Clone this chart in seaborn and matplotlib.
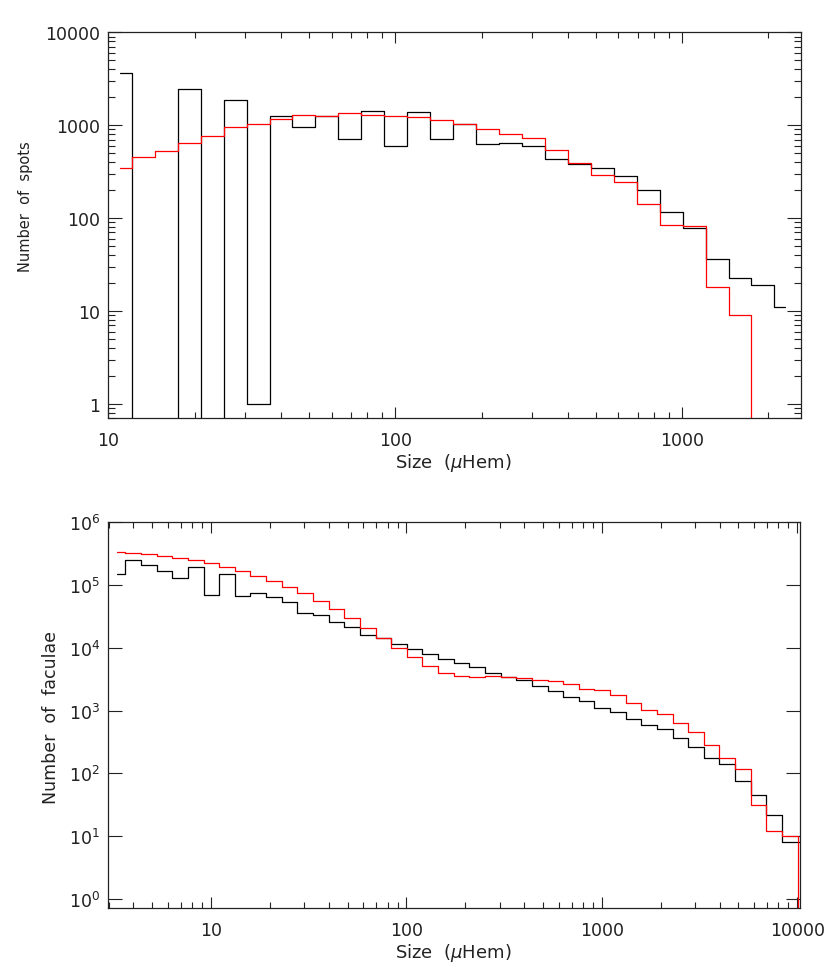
import numpy as np
import matplotlib
matplotlib.use('Agg')
import matplotlib.pyplot as plt
import matplotlib.ticker as mticker
import seaborn as sns

# Spots: bin centres (uHem) and counts for the two series (black / red).
spot_size = [10.96, 13.18, 15.85, 19.05, 22.91, 27.54, 33.11, 39.81, 47.86, 57.54,
             69.18, 83.18, 100.0, 120.2, 144.5, 173.8, 208.9, 251.2, 302.0, 363.1,
             436.5, 524.8, 631.0, 758.6, 912.0, 1096, 1318, 1585, 1905, 2291]
spot_black = [3630, 0, 0, 2460, 0, 1845, 1.0, 1242, 959, 1259,
              702, 1415, 598, 1390, 702, 1042, 624, 640, 604, 438,
              383, 347, 287, 201, 115, 77.3, 36.7, 22.9, 18.9, 11.1]
spot_red = [344, 452, 534, 645, 774, 951, 1033, 1161, 1283, 1250,
            1347, 1303, 1250, 1219, 1151, 1042, 899, 795, 730, 547,
            396, 292, 243, 142, 84, 82.5, 18.0, 9.0, 0, 0]

# Faculae: bin centres (uHem) and counts.
fac_size = [3.311, 3.981, 4.786, 5.754, 6.918, 8.318, 10.0, 12.02, 14.45, 17.38,
            20.89, 25.12, 30.20, 36.31, 43.65, 52.48, 63.10, 75.86, 91.20, 109.6,
            131.8, 158.5, 190.5, 229.1, 275.4, 331.1, 398.1, 478.6, 575.4, 691.8,
            831.8, 1000, 1202, 1445, 1738, 2089, 2512, 3020, 3631, 4365,
            5248, 6310, 7586, 9120, 10965]
fac_black = [1.52e5, 2.50e5, 2.08e5, 1.67e5, 1.31e5, 1.94e5, 7.03e4, 1.52e5, 6.61e4, 7.38e4,
             6.53e4, 5.45e4, 3.64e4, 3.38e4, 2.58e4, 2.15e4, 1.63e4, 1.44e4, 1.15e4, 9.5e3,
             8.0e3, 6.76e3, 5.63e3, 4.92e3, 3.99e3, 3.44e3, 3.05e3, 2.43e3, 2.04e3, 1.64e3,
             1.43e3, 1.12e3, 936, 741, 595, 502, 370, 263, 176, 141,
             76.6, 45.4, 21.6, 8.03, 8.03]
fac_red = [3.31e5, 3.23e5, 3.11e5, 2.89e5, 2.69e5, 2.50e5, 2.24e5, 1.94e5, 1.67e5, 1.41e5,
           1.15e5, 9.2e4, 7.38e4, 5.57e4, 4.11e4, 2.96e4, 2.10e4, 1.44e4, 9.86e3, 7.02e3,
           5.10e3, 3.99e3, 3.57e3, 3.37e3, 3.50e3, 3.44e3, 3.25e3, 3.13e3, 2.94e3, 2.61e3,
           2.25e3, 2.14e3, 1.76e3, 1.30e3, 1.02e3, 869, 625, 450, 286, 176,
           116, 31.1, 12.0, 10.1, 0]

sns.set_style('ticks')
plt.rcParams['font.family'] = ['DejaVu Sans']

fig = plt.figure(figsize=(8.30, 9.79), dpi=100)
ax1 = fig.add_axes([0.1305, 0.5717, 0.8342, 0.3943])
ax2 = fig.add_axes([0.1305, 0.0712, 0.8337, 0.3943])

# step histograms (IDL psym=10 style == steps-mid)
sns.lineplot(x=spot_size, y=spot_black, drawstyle='steps-mid', color='black',
             lw=0.9, estimator=None, ax=ax1)
sns.lineplot(x=spot_size, y=spot_red, drawstyle='steps-mid', color='red',
             lw=0.9, estimator=None, ax=ax1)
sns.lineplot(x=fac_size, y=fac_black, drawstyle='steps-mid', color='black',
             lw=0.9, estimator=None, ax=ax2)
sns.lineplot(x=fac_size, y=fac_red, drawstyle='steps-mid', color='red',
             lw=0.9, estimator=None, ax=ax2)

for ax in (ax1, ax2):
    ax.set_xscale('log')
    ax.set_yscale('log', nonpositive='clip')
    ax.tick_params(which='both', direction='in', top=True, right=True,
                   colors='#222222', labelsize=12.5, width=0.8)
    ax.tick_params(axis='x', which='major', length=8, pad=9)
    ax.tick_params(axis='x', which='minor', length=4)
    ax.tick_params(axis='y', which='major', length=10, pad=6)
    ax.tick_params(axis='y', which='minor', length=5)
    for s in ax.spines.values():
        s.set_linewidth(0.9)
        s.set_color('#222222')
    ax.xaxis.set_major_formatter(mticker.FuncFormatter(lambda v, p: '%d' % v))
    ax.xaxis.set_minor_formatter(mticker.NullFormatter())
    # x label placed like the IDL plot
    ax.set_xlabel(r'Size  ($\mu$Hem)', fontsize=13, color='#222222', va='center')
    ax.xaxis.set_label_coords(0.498, -0.113)

ax1.set_xlim(10, 2590)
ax1.set_ylim(0.70, 10000)
ax1.yaxis.set_major_formatter(mticker.FuncFormatter(lambda v, p: '%d' % v))
ax1.yaxis.set_minor_formatter(mticker.NullFormatter())
ax1.set_ylabel('Number  of  spots', fontsize=10.5, color='#222222', va='center')
ax1.yaxis.set_label_coords(-0.120, 0.55)

ax2.set_xlim(2.98, 10360)
ax2.set_ylim(0.71, 1e6)
ax2.yaxis.set_major_locator(mticker.LogLocator(base=10, numticks=10))
ax2.yaxis.set_minor_locator(mticker.NullLocator())
ax2.set_ylabel('Number  of  faculae', fontsize=12.5, color='#222222', va='center')
ax2.yaxis.set_label_coords(-0.083, 0.497)

fig.savefig('out.png', dpi=100)
